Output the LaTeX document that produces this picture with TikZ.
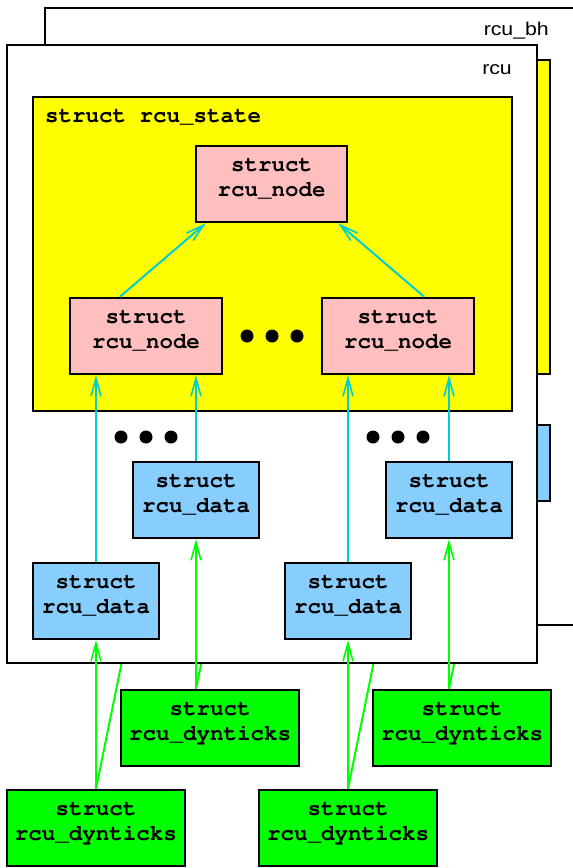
\documentclass[tikz,border=0pt]{standalone}
\usepackage[T1,TU]{fontenc}
\usepackage{fontspec}
\setmainfont{Liberation Sans}
\newfontfamily\labelfont{Liberation Sans}[FakeStretch=1.15]
\newcommand{\courb}{\fontencoding{T1}\fontfamily{pcr}\fontseries{b}\selectfont}
\usetikzlibrary{arrows.meta}
\definecolor{nodepink}{RGB}{255,191,191}
\definecolor{datablue}{RGB}{135,206,255}
\definecolor{dyngreen}{RGB}{0,255,0}
\definecolor{linkcyan}{RGB}{0,206,209}
\definecolor{stateyellow}{RGB}{255,255,0}
\tikzset{
  x=1pt, y=-1pt,
  frame/.style={draw=black, line width=2.4pt, fill=white},
  statebox/.style={draw=black, line width=2.4pt, fill=stateyellow},
  box/.style={draw=black, line width=2.4pt, align=center, inner sep=0pt, text depth=12pt,
    font=\courb\fontsize{22.5}{25}\selectfont},
  nodebox/.style={box, fill=nodepink, minimum width=152pt, minimum height=76pt},
  databox/.style={box, fill=datablue, minimum width=126pt, minimum height=76pt},
  dynbox/.style={box, fill=dyngreen, minimum width=178pt, minimum height=76pt},
  cyanarrow/.style={draw=linkcyan, line width=2pt, -{Straight Barb[length=18pt,width=10pt,line width=1.6pt]}},
  greenarrow/.style={draw=dyngreen, line width=2pt, -{Straight Barb[length=18pt,width=10pt,line width=1.6pt]}},
  greenline/.style={draw=dyngreen, line width=2pt},
  dotmark/.style={fill=black, circle, inner sep=0pt, minimum size=13pt},
  flabel/.style={font=\labelfont\fontsize{18.5}{20}\selectfont, inner sep=0pt},
  slabel/.style={font=\courb\fontsize{22.5}{25}\selectfont, inner sep=0pt}
}
\begin{document}
\begin{tikzpicture}
\useasboundingbox (0,0) rectangle (573,868);
\clip (0,0) rectangle (573,868);
% rcu_bh frame (behind)
\draw[frame] (45,8) rectangle (620,625);
\node[flabel, anchor=base east] (lbh) at (549,35) {rcu\_bh};
\draw[statebox] (71,60) rectangle (550,374);
\node[databox] (bhdUR) at (487,463) {};
\coordinate (bhLL) at (134,602);
\coordinate (bhUL) at (235,501);
\coordinate (bhLR) at (386,602);
\coordinate (bhUR) at (bhdUR.south);
% green dynticks boxes
\node[dynbox] (gUL) at (210,728) {struct\\rcu\_dynticks};
\node[dynbox] (gUR) at (462,728) {struct\\rcu\_dynticks};
\node[dynbox] (gLL) at (96,828) {struct\\rcu\_dynticks};
\node[dynbox] (gLR) at (348,828) {struct\\rcu\_dynticks};
% rcu_data boxes positions (drawn later over the frame)
\coordinate (cUL) at (196,500);
\coordinate (cUR) at (449,500);
\coordinate (cLL) at (96,601);
\coordinate (cLR) at (348,601);
% start points on top of the dynticks boxes
\coordinate (sLL) at (cLL |- gLL.north);
\coordinate (sUL) at (cUL |- gUL.north);
\coordinate (sLR) at (cLR |- gLR.north);
\coordinate (sUR) at (cUR |- gUR.north);
% hidden green lines to rcu_bh data
\draw[greenline] (sLL) -- (bhLL);
\draw[greenline] (sUL) -- (bhUL);
\draw[greenline] (sLR) -- (bhLR);
\draw[greenline] (sUR) -- (bhUR);
% rcu frame
\draw[frame] (7,45) rectangle (537,663);
\node[flabel, anchor=base east] (lrcu) at (512,74) {rcu};
\draw[statebox] (33,97) rectangle (512,411);
\node[slabel, anchor=base west] (lstate) at (45,122) {struct rcu\_state};
% rcu_node boxes
\node[nodebox, minimum width=151pt] (nT) at (271.5,184) {struct\\rcu\_node};
\node[nodebox] (nL) at (146,336) {struct\\rcu\_node};
\node[nodebox] (nR) at (398,336) {struct\\rcu\_node};
\node[dotmark] (d1) at (247,336) {};
\node[dotmark] (d2) at (272,336) {};
\node[dotmark] (d3) at (297,336) {};
% rcu_data boxes
\node[databox] (dUL) at (cUL) {struct\\rcu\_data};
\node[databox] (dUR) at (cUR) {struct\\rcu\_data};
\node[databox] (dLL) at (cLL) {struct\\rcu\_data};
\node[databox] (dLR) at (cLR) {struct\\rcu\_data};
\node[dotmark] (e1) at (121,437) {};
\node[dotmark] (e2) at (146,437) {};
\node[dotmark] (e3) at (171,437) {};
\node[dotmark] (f1) at (373,437) {};
\node[dotmark] (f2) at (398,437) {};
\node[dotmark] (f3) at (423,437) {};
% cyan arrows
\draw[cyanarrow] ([xshift=51pt]nL.north west) -- ([xshift=11pt]nT.south west);
\draw[cyanarrow] ([xshift=-51pt]nR.north east) -- ([xshift=-10pt]nT.south east);
\draw[cyanarrow] (dLL.north) -- (dLL.north |- nL.south);
\draw[cyanarrow] (dUL.north) -- (dUL.north |- nL.south);
\draw[cyanarrow] (dLR.north) -- (dLR.north |- nR.south);
\draw[cyanarrow] (dUR.north) -- (dUR.north |- nR.south);
% green arrows
\draw[greenarrow] (sLL) -- (dLL.south);
\draw[greenarrow] (sUL) -- (dUL.south);
\draw[greenarrow] (sLR) -- (dLR.south);
\draw[greenarrow] (sUR) -- (dUR.south);
\end{tikzpicture}
\end{document}
